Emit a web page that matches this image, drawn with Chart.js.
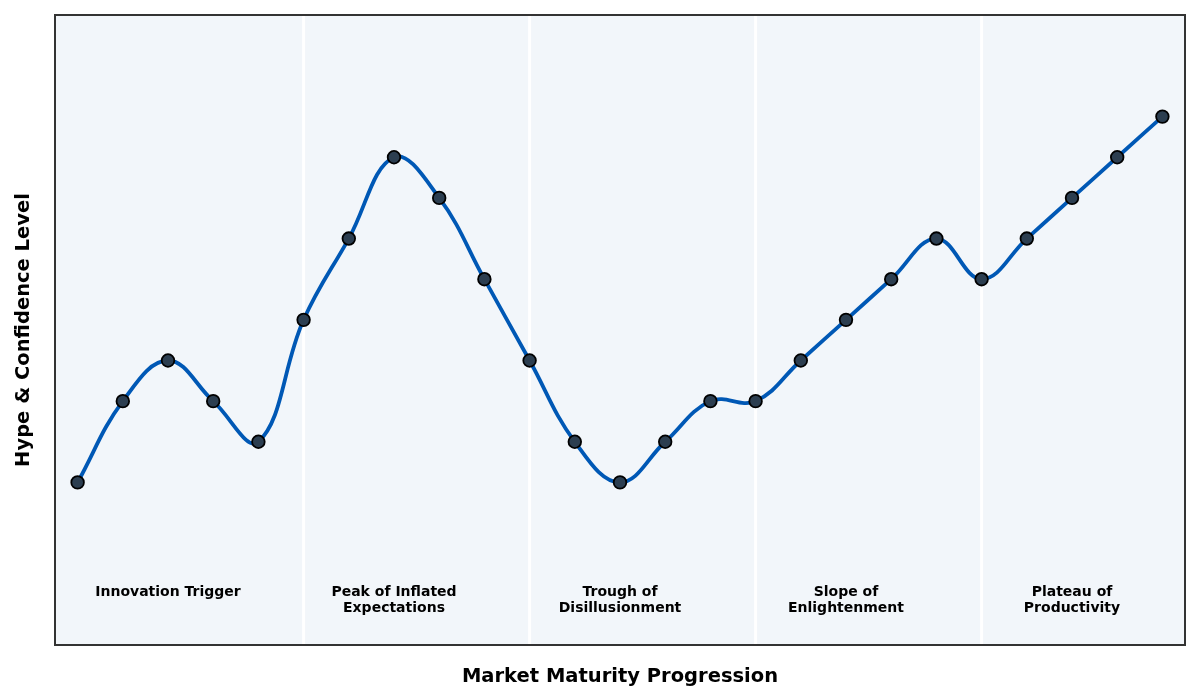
<!DOCTYPE html>
<html>
<head>
<meta charset="utf-8">
<script src="https://cdn.jsdelivr.net/npm/chart.js@4.4.0/dist/chart.umd.min.js"></script>
<style>
  html, body { margin: 0; padding: 0; background: #ffffff; }
  #wrap { width: 1200px; height: 700px; position: relative; }
</style>
</head>
<body>
<div id="wrap"><canvas id="hypeChart"></canvas></div>
<script>
// Data of the hype cycle (one point per step)
const steps = ['1', '2', '3', '4', '5', '6', '7', '8', '9', '10', '11', '12', '13',
    '14', '15', '16', '17', '18', '19', '20', '21', '22', '23', '24', '25'];
const hypeLevel = [2, 4, 5, 4, 3, 6, 8, 10, 9, 7, 5, 3, 2, 3, 4, 4, 5, 6, 7, 8, 7, 8, 9, 10, 11];

// Phases: where they split and where their labels go
const phaseSplits = [5, 10, 15, 20];
const phaseCenters = [2, 7, 12, 17, 22];
const phaseNames = [
    ['Innovation Trigger'],
    ['Peak of Inflated', 'Expectations'],
    ['Trough of', 'Disillusionment'],
    ['Slope of', 'Enlightenment'],
    ['Plateau of', 'Productivity']
];

const FONT = "'DejaVu Sans', 'Liberation Sans', sans-serif";

// Plot background, separators, frame and phase labels
const phasePlugin = {
    id: 'phasePlugin',
    beforeDraw(chart) {
        const { ctx, chartArea: a } = chart;
        ctx.save();
        ctx.fillStyle = '#f2f6fa';
        ctx.fillRect(a.left, a.top, a.right - a.left, a.bottom - a.top);
        ctx.restore();
    },
    beforeDatasetsDraw(chart) {
        const { ctx, chartArea: a, scales } = chart;
        ctx.save();
        ctx.strokeStyle = '#ffffff';
        ctx.lineWidth = 3;
        phaseSplits.forEach(i => {
            const x = scales.x.getPixelForValue(i);
            ctx.beginPath();
            ctx.moveTo(x, a.top);
            ctx.lineTo(x, a.bottom);
            ctx.stroke();
        });
        // Labels
        ctx.fillStyle = '#000000';
        ctx.font = 'bold 14px ' + FONT;
        ctx.textAlign = 'center';
        ctx.textBaseline = 'middle';
        const y0 = scales.y.getPixelForValue(-0.5) + 8.5;
        phaseCenters.forEach((c, k) => {
            const x = scales.x.getPixelForValue(c);
            phaseNames[k].forEach((line, j) => {
                ctx.fillText(line, x, y0 + j * 16);
            });
        });
        ctx.restore();
    },
    afterDraw(chart) {
        const { ctx, chartArea: a } = chart;
        ctx.save();
        ctx.strokeStyle = '#333333';
        ctx.lineWidth = 2;
        ctx.strokeRect(a.left, a.top, a.right - a.left, a.bottom - a.top);
        ctx.restore();
    }
};

const ctx = document.getElementById('hypeChart').getContext('2d');
new Chart(ctx, {
    type: 'line',
    data: {
        labels: steps,
        datasets: [{
            data: hypeLevel,
            borderColor: '#0058b5',
            borderWidth: 3.8,
            tension: 0.4,
            pointRadius: 6.3,
            pointHoverRadius: 6.3,
            pointBackgroundColor: '#2c3e50',
            pointBorderColor: '#000000',
            pointBorderWidth: 1.8,
            fill: false
        }]
    },
    options: {
        responsive: true,
        maintainAspectRatio: false,
        animation: false,
        layout: { padding: { top: 15, right: 15, left: 0, bottom: 0 } },
        plugins: {
            legend: { display: false },
            tooltip: { enabled: false }
        },
        scales: {
            x: {
                type: 'category',
                offset: true,
                grid: { display: false },
                border: { display: false },
                ticks: { display: false },
                title: {
                    display: true,
                    text: 'Market Maturity Progression',
                    color: '#000000',
                    font: { family: FONT, size: 19.5, weight: 'bold' },
                    padding: { top: 0, bottom: 11.5 }
                },
                afterFit(scale) { scale.height = 55; }
            },
            y: {
                min: -2,
                max: 13.5,
                grid: { display: false },
                border: { display: false },
                ticks: { display: false },
                title: {
                    display: true,
                    text: 'Hype & Confidence Level',
                    color: '#000000',
                    font: { family: FONT, size: 19.5, weight: 'bold' },
                    padding: { top: 12.3, bottom: 0 }
                },
                afterFit(scale) { scale.width = 55; }
            }
        }
    },
    plugins: [phasePlugin]
});
</script>
</body>
</html>
